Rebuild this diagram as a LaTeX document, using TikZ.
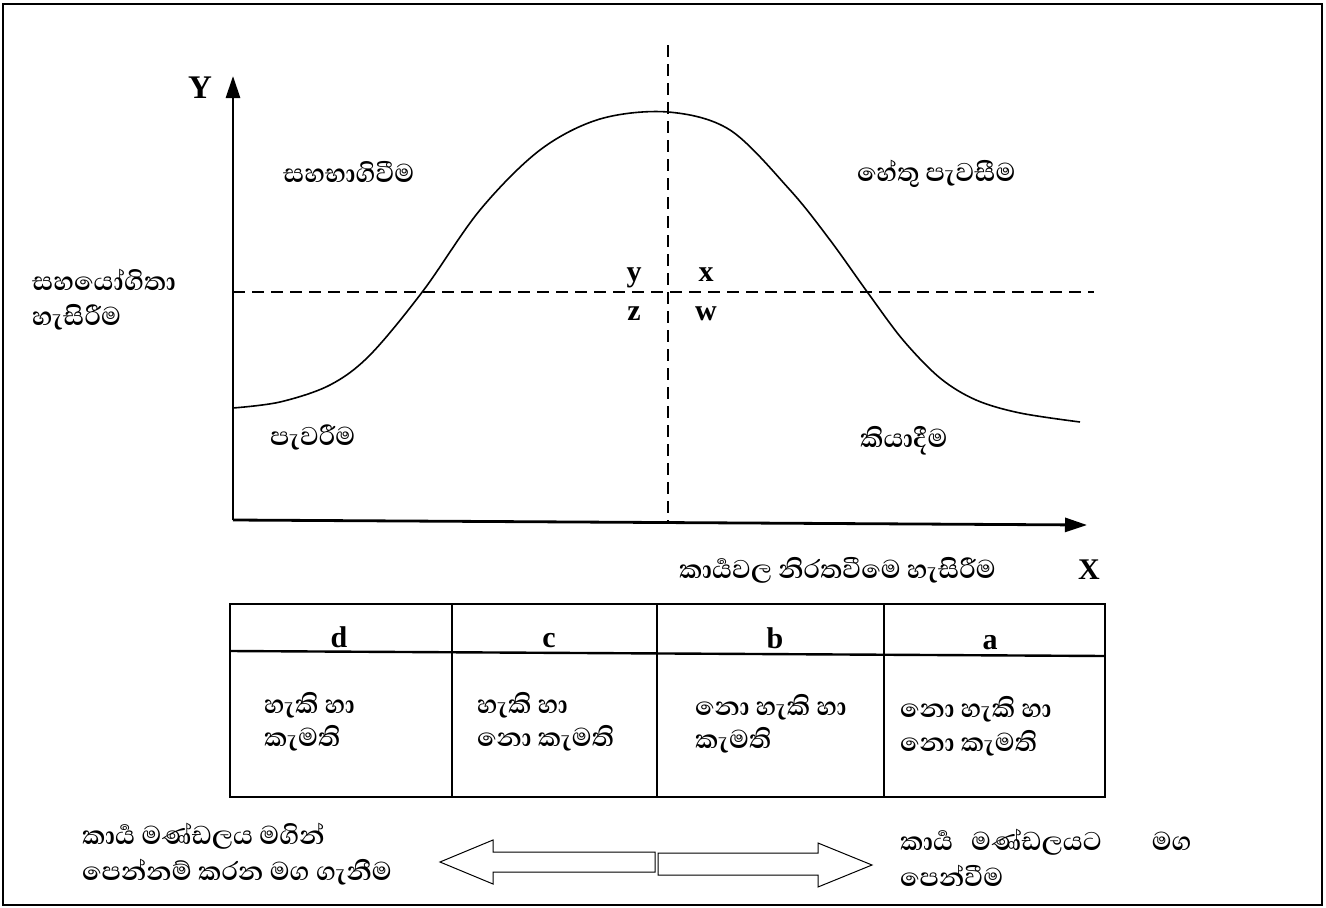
\documentclass[tikz,border=0pt]{standalone}
\usepackage{fontspec}
\newfontfamily\sinhfont[Script=Sinhala]{Abhaya Libre}
\newfontfamily\latfont{Liberation Serif}
\usetikzlibrary{arrows.meta}
\begin{document}
\begin{tikzpicture}[x=1pt,y=-1pt,
  sin/.style={font=\sinhfont\bfseries\fontsize{33}{37}\selectfont, inner sep=0pt, anchor=west},
  lat/.style={font=\latfont\bfseries\fontsize{30}{32}\selectfont, inner sep=0pt, anchor=base},
  axisline/.style={line width=2.8pt, -{Triangle[length=22pt,width=14pt]}},
  guide/.style={line width=1.4pt, dash pattern=on 12pt off 7pt},
  tab/.style={line width=2.4pt},
  blockarrow/.style={line width=1pt, fill=white}]
\useasboundingbox (0,0) rectangle (1326,908);
\draw[line width=1.5pt] (3,4) rectangle (1322,905);

% axes
\coordinate (O) at (233,520);
\coordinate (Ytip) at (233,76);
\coordinate (Xtip) at (1087,525);
\draw[axisline] (O) -- (Ytip);
\draw[axisline] (O) -- (Xtip);

% guides
\coordinate (vt) at (668,45);
\coordinate (vb) at (668,524);
\coordinate (hl) at (233,292);
\coordinate (hr) at (1094,292);
\draw[guide] (vt) -- (vb);
\draw[guide] (hl) -- (hr);

% curve
\draw[line width=1.6pt] plot[smooth, tension=0.55] coordinates {
  (233,408) (280,402) (330,385) (370,355) (423,291) (480,210) (540,150)
  (600,119) (668,112) (730,130) (790,190) (830,240) (868,293) (903,340)
  (940,378) (976,400) (1020,413) (1080,422)};

% axis labels
\node[lat, font=\latfont\bfseries\fontsize{33}{34}\selectfont] (Y) at (200,98) {Y};
\node[lat] (X) at (1089,579) {X};
\node[lat] (qy) at (634,281) {y};
\node[lat] (qx) at (706,281) {x};
\node[lat] (qz) at (634,320) {z};
\node[lat] (qw) at (706,320) {w};

% region labels
\node[sin] (sahabhagi) at (283,172) {සහභාගිවීම};
\node[sin] (hetu) at (857,174) {හේතු පැවසීම};
\node[sin] (sahayogi) at (32,280) {සහයෝගිතා};
\node[sin] (hasirima) at (32,317) {හැසිරීම};
\node[sin] (pavarima) at (270,437) {පැවරීම};
\node[sin] (kiyadima) at (860,441) {කියාදීම};
\node[sin] (xlabel) at (679,570) {කාර්^^^^200dයවල නිරතවීමෙ හැසිරීම};

% table
\coordinate (t1) at (230,604);
\coordinate (t2) at (1105,797);
\draw[tab] (t1) rectangle (t2);
\draw[tab] (230,651) -- (1105,656);
\draw[tab] (452,604) -- (452,797);
\draw[tab] (657,604) -- (657,797);
\draw[tab] (884,604) -- (884,797);

\node[lat] (hd) at (339,647) {d};
\node[lat] (hc) at (549,647) {c};
\node[lat] (hb) at (775,648) {b};
\node[lat] (ha) at (990,649) {a};

\node[sin] (d1) at (264,705) {හැකි හා};
\node[sin] (d2) at (264,738) {කැමති};
\node[sin] (c1) at (477,705) {හැකි හා};
\node[sin] (c2) at (477,738) {නො කැමති};
\node[sin] (b1) at (695,707) {නො හැකි හා};
\node[sin] (b2) at (695,740) {කැමති};
\node[sin] (a1) at (900,709) {නො හැකි හා};
\node[sin] (a2) at (900,743) {නො කැමති};

% bottom texts
\node[sin] (l1) at (82,836) {කාර්^^^^200dය මණ්ඩලය මගින්};
\node[sin] (l2) at (82,872) {පෙන්නම් කරන මග ගැනීම};
\node[sin] (r1) at (900,842) {කාර්^^^^200dය\hspace{18pt}මණ්ඩලයට\hspace{50pt}මග};
\node[sin] (r2) at (900,876) {පෙන්වීම};

% block arrows
\draw[blockarrow] (655,852) -- (493,852) -- (493,840) -- (440,862) -- (493,884)
  -- (493,872) -- (655,872) -- cycle;
\draw[blockarrow] (658,853) -- (818,853) -- (818,843) -- (872,865) -- (818,887)
  -- (818,875) -- (658,875) -- cycle;
\end{tikzpicture}
\end{document}
